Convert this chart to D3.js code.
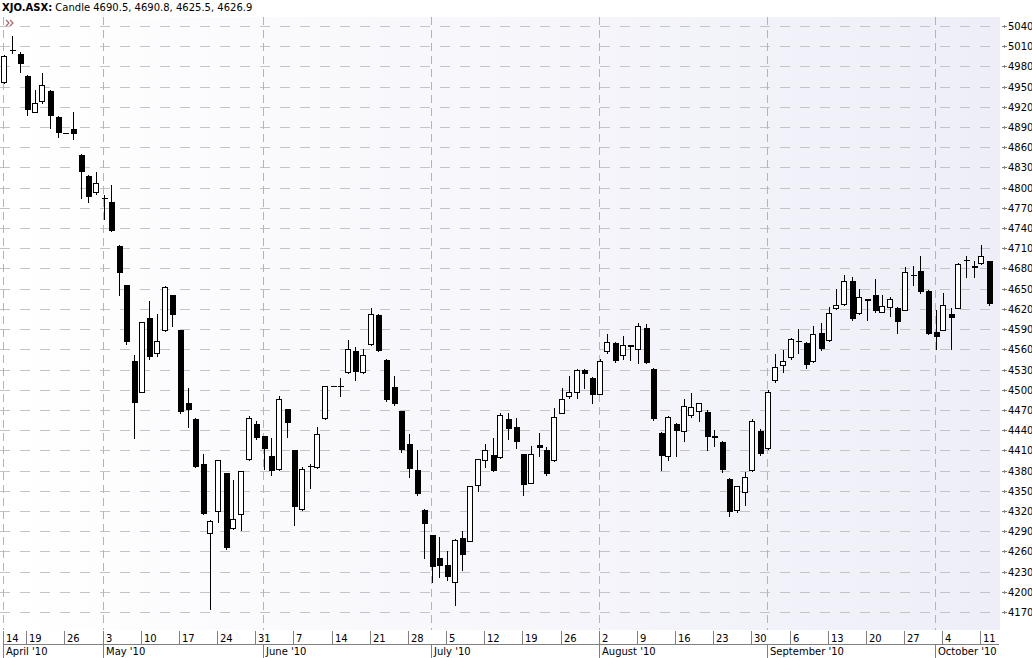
<!DOCTYPE html>
<html lang="en">
<head>
<meta charset="utf-8">
<title>XJO.ASX candles</title>
<script src="https://d3js.org/d3.v7.min.js"></script>
<style>
  body { margin: 0; background: #fff; }
  text { font-family: "DejaVu Sans", sans-serif; }
</style>
</head>
<body>
<script>

// trading days from 14 Apr 2010 to 12 Oct 2010 (weekdays, holidays drawn flat)
var startDay = new Date(2010, 3, 14);
var endDay = new Date(2010, 9, 13);

var opens = [4957, 5004, 4999, 4966, 4913, 4928, 4944, 4905, 4881, 4887,
  4849, 4818, 4794, 4785, 4779, 4714, 4655, 4543, 4497, 4607,
  4555, 4589, 4640, 4588, 4481, 4456, 4390, 4287, 4320, 4376,
  4294, 4315, 4397, 4449, 4431, 4402, 4382, 4471, 4410, 4323,
  4387, 4385, 4458, 4505, 4506, 4526, 4557, 4526, 4568, 4611,
  4544, 4504, 4468, 4419, 4381, 4322, 4284, 4250, 4240, 4214,
  4280, 4276, 4359, 4395, 4403, 4400, 4457, 4444, 4404, 4362,
  4418, 4411, 4395, 4466, 4490, 4497, 4529, 4518, 4494, 4558,
  4570, 4551, 4566, 4560, 4592, 4531, 4436, 4401, 4449, 4438,
  4462, 4468, 4467, 4432, 4423, 4368, 4322, 4348, 4381, 4438,
  4413, 4514, 4537, 4548, 4573, 4570, 4542, 4584, 4574, 4622,
  4627, 4661, 4614, 4634, 4640, 4616, 4623, 4622, 4619, 4671,
  4677, 4646, 4585, 4589, 4613, 4622, 4692, 4684, 4688, 4690.5];

var highs = [4997, 5025, 5002, 4967, 4945, 4970, 4945, 4906, 4881, 4912,
  4850, 4819, 4823, 4789, 4804, 4715, 4656, 4551, 4600, 4631,
  4613, 4654, 4641, 4589, 4503, 4458, 4404, 4307, 4396, 4377,
  4366, 4379, 4461, 4454, 4432, 4429, 4490, 4472, 4411, 4385,
  4390, 4445, 4505, 4505, 4517, 4574, 4563, 4561, 4622, 4612,
  4545, 4520, 4469, 4434, 4410, 4323, 4285, 4282, 4260, 4278,
  4290, 4357, 4397, 4419, 4429, 4466, 4465, 4458, 4405, 4417,
  4436, 4415, 4473, 4503, 4520, 4531, 4531, 4519, 4545, 4583,
  4571, 4580, 4567, 4599, 4597, 4532, 4437, 4461, 4451, 4486,
  4495, 4481, 4470, 4440, 4424, 4369, 4357, 4378, 4456, 4442,
  4500, 4553, 4559, 4577, 4590, 4571, 4594, 4599, 4623, 4650,
  4671, 4667, 4649, 4635, 4665, 4641, 4637, 4623, 4682, 4683,
  4698, 4648, 4619, 4644, 4621, 4688, 4698, 4691, 4715, 4690.8];

var lows = [4955, 5000, 4972, 4908, 4912, 4925, 4888, 4875, 4881, 4872,
  4785, 4778, 4791, 4753, 4735, 4640, 4568, 4428, 4496, 4546,
  4550, 4587, 4595, 4466, 4445, 4385, 4315, 4175, 4303, 4264,
  4293, 4292, 4396, 4427, 4382, 4374, 4381, 4430, 4299, 4322,
  4354, 4384, 4457, 4505, 4491, 4525, 4515, 4525, 4566, 4557,
  4484, 4478, 4407, 4370, 4344, 4250, 4214, 4222, 4218, 4181,
  4233, 4275, 4350, 4386, 4379, 4399, 4427, 4413, 4344, 4361,
  4402, 4374, 4394, 4465, 4488, 4488, 4502, 4481, 4493, 4554,
  4541, 4545, 4544, 4540, 4539, 4455, 4381, 4395, 4402, 4424,
  4460, 4454, 4410, 4417, 4378, 4313, 4319, 4329, 4380, 4403,
  4412, 4512, 4526, 4545, 4554, 4532, 4541, 4559, 4573, 4620,
  4626, 4604, 4613, 4603, 4616, 4615, 4609, 4584, 4618, 4656,
  4644, 4582, 4560, 4588, 4560, 4621, 4668, 4668, 4687, 4625.5];

var closes = [4995, 5003, 4984, 4915, 4925, 4953, 4907, 4881, 4881, 4880,
  4823, 4786, 4807, 4784, 4736, 4673, 4571, 4481, 4600, 4548,
  4573, 4653, 4611, 4467, 4470, 4386, 4316, 4305, 4396, 4265,
  4308, 4379, 4458, 4428, 4412, 4380, 4486, 4450, 4326, 4382,
  4385, 4435, 4505, 4505, 4504, 4560, 4526, 4552, 4613, 4558,
  4485, 4479, 4411, 4383, 4345, 4301, 4237, 4238, 4222, 4277,
  4254, 4357, 4397, 4410, 4380, 4462, 4442, 4423, 4358, 4404,
  4413, 4375, 4460, 4486, 4497, 4530, 4524, 4492, 4542, 4571,
  4542, 4567, 4563, 4595, 4540, 4456, 4401, 4460, 4438, 4476,
  4474, 4480, 4430, 4429, 4381, 4318, 4357, 4370, 4453, 4404,
  4496, 4533, 4542, 4576, 4572, 4537, 4582, 4560, 4614, 4626,
  4661, 4605, 4638, 4631, 4617, 4625, 4634, 4601, 4675, 4670,
  4645, 4583, 4579, 4626, 4607, 4687, 4691, 4681, 4698, 4626.9];

var priceTicks = d3.range(4170, 5041, 30);
var monthNames = ["January", "February", "March", "April", "May", "June", "July",
  "August", "September", "October", "November", "December"];

var days = d3.timeDay.range(startDay, endDay).filter(function(d) {
  return d.getDay() !== 0 && d.getDay() !== 6;
});

var data = days.map(function(d, i) {
  return { date: d, open: opens[i], high: highs[i], low: lows[i], close: closes[i] };
});

var width = 1032, height = 658;
var plotLeft = 0, plotRight = 1000, plotTop = 17, plotBottom = 630;

var svg = d3.select("body").append("svg")
  .attr("width", width)
  .attr("height", height);

var x = d3.scalePoint()
  .domain(days.map(function(d) { return +d; }))
  .range([4.3, 989]);

var y = d3.scaleLinear()
  .domain([4170, 5040])
  .range([612, 26]);

// background
var grad = svg.append("defs").append("linearGradient")
  .attr("id", "bg")
  .attr("x1", "0%").attr("x2", "100%").attr("y1", "0%").attr("y2", "0%");
grad.append("stop").attr("offset", "0%").attr("stop-color", "#ffffff");
grad.append("stop").attr("offset", "100%").attr("stop-color", "#eeeef8");

svg.append("rect")
  .attr("x", plotLeft).attr("y", plotTop)
  .attr("width", plotRight - plotLeft).attr("height", plotBottom - plotTop)
  .attr("fill", "url(#bg)");

// horizontal grid
svg.append("g")
  .selectAll("line")
  .data(priceTicks)
  .enter().append("line")
  .attr("x1", plotLeft).attr("x2", plotRight)
  .attr("y1", function(d) { return Math.round(y(d)) + 0.5; })
  .attr("y2", function(d) { return Math.round(y(d)) + 0.5; })
  .attr("stroke", "#c4c4c8")
  .attr("stroke-dasharray", "10,10");

// month starts
var monthStarts = data.filter(function(d, i) {
  return i === 0 || d.date.getMonth() !== data[i - 1].date.getMonth();
});

svg.append("g")
  .selectAll("line")
  .data(monthStarts)
  .enter().append("line")
  .attr("x1", function(d) { return Math.round(x(+d.date)) - 0.5; })
  .attr("x2", function(d) { return Math.round(x(+d.date)) - 0.5; })
  .attr("y1", plotTop).attr("y2", plotBottom)
  .attr("stroke", "#b4b4b8")
  .attr("stroke-dasharray", "8,5");

// candles
var candle = svg.append("g")
  .selectAll("g")
  .data(data)
  .enter().append("g")
  .attr("transform", function(d) { return "translate(" + Math.round(x(+d.date)) + ",0)"; });

candle.append("line")
  .attr("x1", 0.5).attr("x2", 0.5)
  .attr("y1", function(d) { return Math.round(y(d.high)); })
  .attr("y2", function(d) { return Math.round(y(d.low)) + 1; })
  .attr("stroke", "#000");

candle.append("rect")
  .attr("shape-rendering", "crispEdges")
  .attr("x", function(d) { return d.close >= d.open && d.close - d.open > 1.5 ? -2.5 : -2; })
  .attr("y", function(d) {
    var t = Math.round(y(Math.max(d.open, d.close)));
    return d.close >= d.open && d.close - d.open > 1.5 ? t + 0.5 : t;
  })
  .attr("width", function(d) { return d.close >= d.open && d.close - d.open > 1.5 ? 5 : 6; })
  .attr("height", function(d) {
    var h = Math.round(y(Math.min(d.open, d.close))) - Math.round(y(Math.max(d.open, d.close)));
    return Math.max(h, 1);
  })
  .attr("fill", function(d) { return d.close >= d.open && d.close - d.open > 1.5 ? "#fff" : "#000"; })
  .attr("stroke", function(d) { return d.close >= d.open && d.close - d.open > 1.5 ? "#000" : "none"; });

// right price axis
var axisG = svg.append("g");
axisG.selectAll("path")
  .data(priceTicks)
  .enter().append("path")
  .attr("d", function(d) {
    var yy = Math.round(y(d)) + 0.5;
    return "M1002," + yy + "H1007M1004.5," + (yy - 1.5) + "V" + (yy + 1.5);
  })
  .attr("stroke", "#808080");

axisG.selectAll("text")
  .data(priceTicks)
  .enter().append("text")
  .attr("x", 1008)
  .attr("y", function(d) { return y(d) + 4; })
  .attr("font-size", "10px")
  .attr("fill", "#000")
  .text(function(d) { return d; });

// bottom date axis
var dayTicks = data.filter(function(d, i) { return i === 0 || d.date.getDay() === 1; });

var bottom = svg.append("g");
bottom.append("line")
  .attr("x1", 4).attr("x2", 999)
  .attr("y1", 644.5).attr("y2", 644.5)
  .attr("stroke", "#808080");

bottom.selectAll(".daytick")
  .data(dayTicks)
  .enter().append("line")
  .attr("class", "daytick")
  .attr("x1", function(d) { return Math.round(x(+d.date)) - 0.5; })
  .attr("x2", function(d) { return Math.round(x(+d.date)) - 0.5; })
  .attr("y1", 631).attr("y2", 645)
  .attr("stroke", "#808080");

bottom.selectAll(".daylabel")
  .data(dayTicks)
  .enter().append("text")
  .attr("class", "daylabel")
  .attr("x", function(d) { return Math.round(x(+d.date)) + 2; })
  .attr("y", 642)
  .attr("font-size", "10px")
  .text(function(d) { return d.date.getDate(); });

bottom.selectAll(".monthtick")
  .data(monthStarts)
  .enter().append("line")
  .attr("class", "monthtick")
  .attr("x1", function(d) { return Math.round(x(+d.date)) - 0.5; })
  .attr("x2", function(d) { return Math.round(x(+d.date)) - 0.5; })
  .attr("y1", 645).attr("y2", 658)
  .attr("stroke", "#808080");

bottom.selectAll(".monthlabel")
  .data(monthStarts)
  .enter().append("text")
  .attr("class", "monthlabel")
  .attr("x", function(d) { return Math.round(x(+d.date)) + 2; })
  .attr("y", 655)
  .attr("font-size", "10px")
  .text(function(d) {
    return monthNames[d.date.getMonth()] + " '" + String(d.date.getFullYear()).slice(2);
  });

// header
var last = data[data.length - 1];
var header = svg.append("text")
  .attr("x", 2)
  .attr("y", 11)
  .attr("font-size", "10px");
header.append("tspan")
  .attr("font-weight", "bold")
  .text("XJO.ASX:");
header.append("tspan")
  .text(" Candle " + [last.open, last.high, last.low, last.close].map(function(v) {
    return v.toFixed(1);
  }).join(", "));

// scroll marker
svg.append("path")
  .attr("d", "M6,20L9,23L6,26M10,20L13,23L10,26")
  .attr("fill", "none")
  .attr("stroke", "#a06868")
  .attr("stroke-width", 1.2);

</script>
</body>
</html>
